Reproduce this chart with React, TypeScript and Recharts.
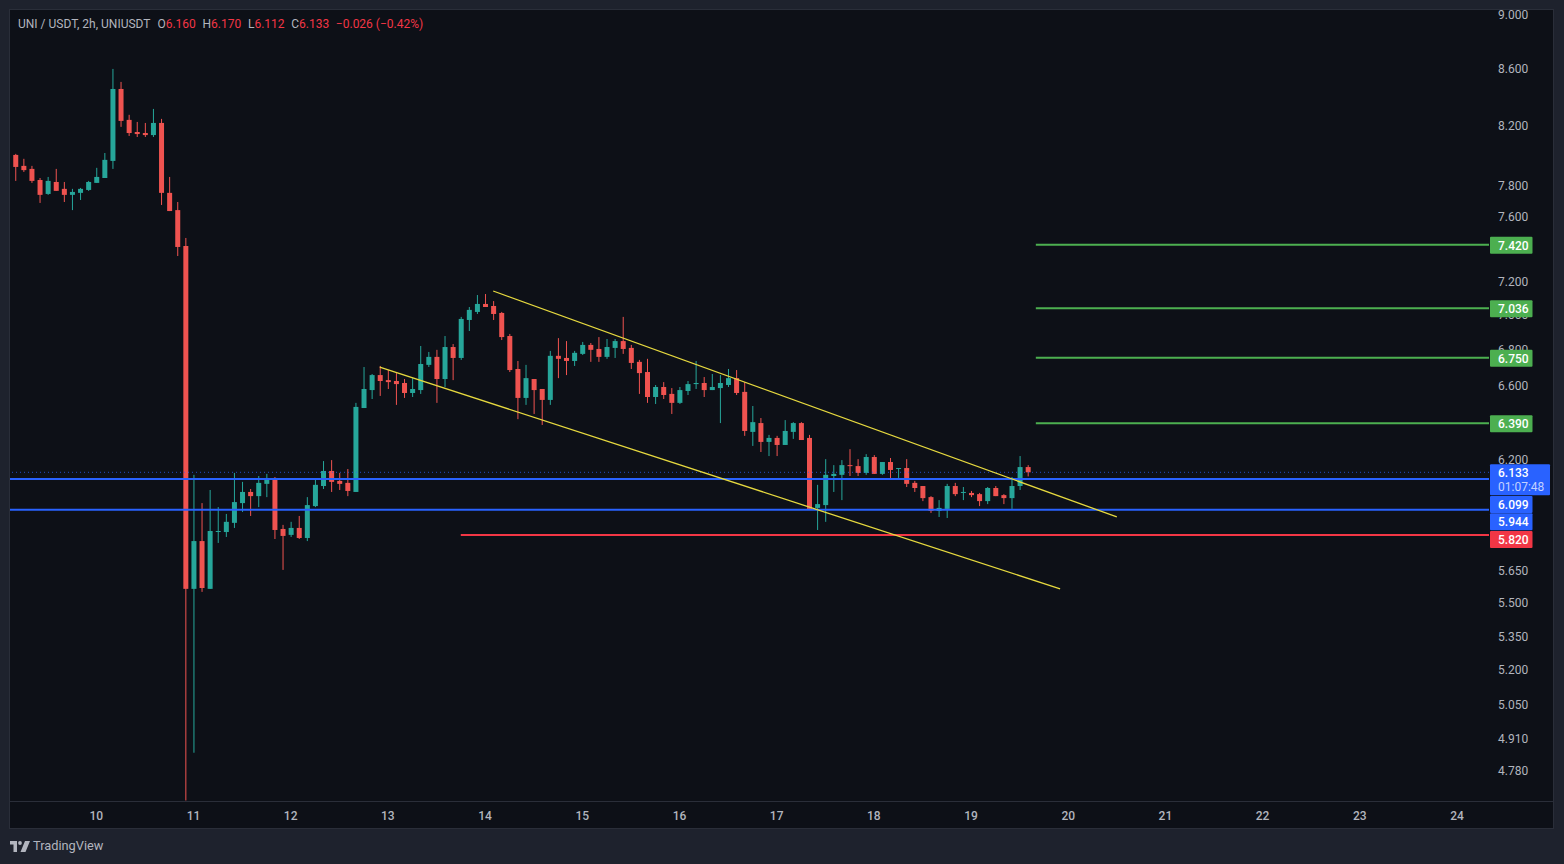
import React from "react";
import { ComposedChart, Bar, XAxis, YAxis, ReferenceLine } from "recharts";

const opens = [
  7.999, 7.926, 7.906, 7.833, 7.742, 7.82, 7.775, 7.736, 7.749, 7.768,
  7.814, 7.846, 7.959, 8.453, 8.237, 8.154, 8.147, 8.133, 8.216, 7.749,
  7.638, 7.412, 5.563, 5.79, 5.563, 5.836, 5.834, 5.879, 5.977, 6.033,
  6.012, 6.074, 6.104, 5.849, 5.82, 5.854, 5.805, 5.962, 6.063, 6.14,
  6.089, 6.079, 6.033, 6.472, 6.57, 6.653, 6.625, 6.62, 6.609, 6.554,
  6.57, 6.71, 6.755, 6.631, 6.811, 6.749, 6.967, 7.014, 7.061, 7.049,
  7.008, 6.874, 6.687, 6.527, 6.631, 6.576, 6.516, 6.761, 6.749, 6.732,
  6.772, 6.823, 6.8, 6.755, 6.806, 6.845, 6.806, 6.727, 6.67, 6.532,
  6.587, 6.549, 6.5, 6.565, 6.603, 6.609, 6.57, 6.581, 6.598, 6.636,
  6.56, 6.344, 6.391, 6.291, 6.312, 6.275, 6.344, 6.391, 6.312, 5.953,
  5.967, 6.114, 6.12, 6.17, 6.165, 6.13, 6.212, 6.125, 6.186, 6.15,
  6.155, 6.079, 6.063, 6.007, 5.938, 5.948, 6.063, 6.028, 6.028, 6.022,
  5.987, 6.053, 6.017, 6.002, 6.063, 6.16,
];
const highs = [
  8.006, 7.973, 7.926, 7.846, 7.853, 7.906, 7.82, 7.775, 7.781, 7.827,
  7.913, 8.012, 8.596, 8.503, 8.272, 8.223, 8.216, 8.313, 8.244, 7.853,
  7.69, 7.462, 6.12, 5.977, 6.043, 5.957, 5.923, 6.13, 6.084, 6.048,
  6.114, 6.125, 6.109, 5.869, 5.884, 5.913, 6.007, 6.094, 6.191, 6.196,
  6.13, 6.15, 6.5, 6.698, 6.659, 6.704, 6.681, 6.664, 6.631, 6.636,
  6.817, 6.783, 6.795, 6.874, 6.828, 6.985, 7.043, 7.114, 7.12, 7.078,
  7.014, 6.886, 6.732, 6.71, 6.631, 6.576, 6.789, 6.862, 6.845, 6.789,
  6.84, 6.834, 6.868, 6.857, 6.857, 6.985, 6.823, 6.738, 6.744, 6.598,
  6.614, 6.581, 6.587, 6.62, 6.732, 6.642, 6.659, 6.653, 6.687, 6.681,
  6.614, 6.483, 6.418, 6.328, 6.323, 6.407, 6.396, 6.396, 6.328, 6.069,
  6.201, 6.17, 6.196, 6.253, 6.201, 6.227, 6.222, 6.186, 6.207, 6.155,
  6.201, 6.089, 6.063, 6.012, 5.992, 6.074, 6.079, 6.058, 6.038, 6.028,
  6.058, 6.063, 6.022, 6.109, 6.217, 6.17,
];
const lows = [
  7.827, 7.886, 7.814, 7.684, 7.736, 7.762, 7.69, 7.638, 7.703, 7.762,
  7.814, 7.846, 7.906, 8.189, 8.127, 8.12, 8.12, 8.12, 7.671, 7.632,
  7.35, 4.66, 4.85, 5.549, 5.563, 5.781, 5.81, 5.854, 5.933, 5.913,
  5.957, 6.007, 5.8, 5.652, 5.81, 5.8, 5.79, 5.957, 6.048, 6.033,
  6.043, 6.012, 6.033, 6.472, 6.521, 6.538, 6.576, 6.489, 6.527, 6.532,
  6.549, 6.698, 6.5, 6.587, 6.625, 6.738, 6.903, 7.002, 7.043, 6.967,
  6.851, 6.67, 6.412, 6.489, 6.44, 6.381, 6.489, 6.636, 6.653, 6.704,
  6.766, 6.727, 6.727, 6.744, 6.749, 6.772, 6.687, 6.549, 6.5, 6.494,
  6.521, 6.44, 6.494, 6.543, 6.576, 6.532, 6.57, 6.391, 6.587, 6.543,
  6.323, 6.27, 6.238, 6.217, 6.217, 6.275, 6.307, 6.301, 5.943, 5.844,
  5.884, 6.033, 5.992, 6.114, 6.114, 6.12, 6.125, 6.12, 6.104, 6.104,
  6.058, 6.033, 5.987, 5.928, 5.908, 5.903, 6.012, 5.992, 6.007, 5.962,
  5.972, 6.012, 5.972, 5.948, 6.043, 6.112,
];
const closes = [
  7.919, 7.898, 7.827, 7.736, 7.827, 7.762, 7.736, 7.755, 7.775, 7.82,
  7.853, 7.966, 8.453, 8.23, 8.147, 8.14, 8.133, 8.216, 7.749, 7.632,
  7.406, 5.563, 5.79, 5.567, 5.839, 5.839, 5.884, 5.982, 6.033, 6.012,
  6.079, 6.104, 5.844, 5.815, 5.854, 5.805, 5.967, 6.069, 6.14, 6.084,
  6.074, 6.038, 6.478, 6.576, 6.653, 6.62, 6.614, 6.603, 6.554, 6.576,
  6.715, 6.755, 6.631, 6.811, 6.749, 6.973, 7.026, 7.061, 7.043, 7.002,
  6.868, 6.681, 6.527, 6.636, 6.57, 6.516, 6.761, 6.744, 6.732, 6.778,
  6.823, 6.795, 6.755, 6.811, 6.845, 6.8, 6.721, 6.664, 6.532, 6.587,
  6.543, 6.5, 6.57, 6.603, 6.609, 6.57, 6.587, 6.609, 6.636, 6.554,
  6.349, 6.396, 6.291, 6.312, 6.275, 6.349, 6.391, 6.301, 5.948, 5.972,
  6.12, 6.125, 6.17, 6.165, 6.13, 6.212, 6.125, 6.186, 6.145, 6.155,
  6.074, 6.053, 6.002, 5.938, 5.953, 6.063, 6.022, 6.033, 6.017, 5.987,
  6.053, 6.012, 6.002, 6.063, 6.16, 6.133,
];

const dayLabels = ["10", "11", "12", "13", "14", "15", "16", "17", "18", "19", "20", "21", "22", "23", "24"];
const dayTickIdx = [10, 22, 34, 46, 58, 70, 82, 94, 106, 118, 130, 142, 154, 166, 178];
const priceTicks = [9, 8.6, 8.2, 7.8, 7.6, 7.2, 7, 6.8, 6.6, 6.2, 5.65, 5.5, 5.35, 5.2, 5.05, 4.91, 4.78];
const targetLevels = [7.42, 7.036, 6.75, 6.39];
const supportLevels = [6.099, 5.944];
const stopLevel = 5.82;
const lastPrice = 6.133;
const countdown = "01:07:48";
const upperChannel = [{ x: 59, y: 7.138 }, { x: 136, y: 5.908 }];
const lowerChannel = [{ x: 45, y: 6.698 }, { x: 129, y: 5.563 }];
const xDomain = [-0.654, 181.95];
const yDomain = [4.658, 9.023];
const targetStart = 126;
const stopStart = 55;

const data = opens.map((o, i) => ({ i, o, h: highs[i], l: lows[i], c: closes[i] }));

const UP = "#26a69a";
const DOWN = "#ef5350";
const GREEN = "#4caf50";
const BLUE = "#2962ff";
const RED = "#f23645";
const YELLOW = "#e6d93f";
const TEXT = "#b2b5be";
const FONT = "Roboto, sans-serif";

const labelOffsets: Record<number, number> = { 6.099: 25, 5.944: 11.5, 5.82: 4 };

function Candle(props: any) {
  const { x, y, width, height, payload } = props;
  const { o, h, l, c } = payload;
  const color = c >= o ? UP : DOWN;
  const span = Math.log(h) - Math.log(l) || 1;
  const top = y + (height * (Math.log(h) - Math.log(Math.max(o, c)))) / span;
  const bottom = y + (height * (Math.log(h) - Math.log(Math.min(o, c)))) / span;
  const cx = x + width / 2;
  return (
    <g>
      <rect x={cx - 0.5} y={y} width={1} height={height} fill={color} />
      <rect x={cx - 2.5} y={top} width={5} height={Math.max(bottom - top, 1)} fill={color} />
    </g>
  );
}

function PriceTick(props: any) {
  const { x, y, payload } = props;
  const v = payload.value;
  const label = v.toFixed(3);
  if (v === lastPrice) {
    return (
      <g fontFamily={FONT} fontSize={12}>
        <rect x={x + 1} y={y - 8} width={60} height={31} fill={BLUE} rx={1} />
        <text x={x + 9} y={y + 4.8} fill="#ffffff" fontWeight={500}>{label}</text>
        <text x={x + 9} y={y + 19} fill="#c3d1ff">{countdown}</text>
      </g>
    );
  }
  const isTarget = targetLevels.includes(v);
  const isSupport = supportLevels.includes(v);
  if (isTarget || isSupport || v === stopLevel) {
    const dy = labelOffsets[v] ?? 0;
    const fill = isTarget ? GREEN : isSupport ? BLUE : RED;
    return (
      <g fontFamily={FONT} fontSize={12}>
        <rect x={x + 1} y={y + dy - 8} width={42.5} height={17} fill={fill} rx={1} />
        <text x={x + 9} y={y + dy + 4.8} fill="#ffffff" fontWeight={500}>{label}</text>
      </g>
    );
  }
  return (
    <text x={x + 9} y={y + 5} fill={TEXT} fontFamily={FONT} fontSize={12}>{label}</text>
  );
}

function TimeTick(props: any) {
  const { x, y, payload } = props;
  const label = dayLabels[dayTickIdx.indexOf(payload.value)];
  return (
    <text x={x} y={y + 11} textAnchor="middle" fill={TEXT} fontFamily={FONT} fontSize={12} fontWeight={500}>{label}</text>
  );
}

const Ohlc = ({ k, v }: { k: string; v: string }) => (
  <span style={{ marginRight: 6.7 }}>
    <span style={{ color: TEXT }}>{k}</span>
    <span style={{ color: RED }}>{v}</span>
  </span>
);

export default function App() {
  return (
    <div style={{ position: "fixed", left: 0, top: 0, width: 1564, height: 864, background: "#1e222d", overflow: "hidden", fontFamily: FONT }}>
      <div style={{ position: "absolute", left: 10, top: 10, width: 1543, height: 818, background: "#0d1017", boxShadow: "0 0 0 1px #2a2e39" }} />
      <div style={{ position: "absolute", left: 10, top: 801, width: 1544, height: 1, background: "#2a2e39" }} />
      <div style={{ position: "absolute", left: 0, top: 0 }}>
        <ComposedChart width={1564} height={864} data={data} margin={{ top: 11, right: 11, bottom: 35, left: 10 }}>
          <XAxis
            dataKey="i"
            type="number"
            domain={xDomain}
            allowDataOverflow
            ticks={dayTickIdx}
            interval={0}
            height={28}
            axisLine={false}
            tickLine={false}
            tick={TimeTick}
          />
          <YAxis
            orientation="right"
            scale="log"
            domain={yDomain}
            allowDataOverflow
            ticks={[...priceTicks, ...targetLevels, lastPrice, ...supportLevels, stopLevel]}
            interval={0}
            width={64}
            axisLine={false}
            tickLine={false}
            tickSize={0}
            tickMargin={0}
            tick={PriceTick}
          />
          <ReferenceLine y={lastPrice} stroke={BLUE} strokeWidth={1} strokeDasharray="1 3" strokeOpacity={0.75} />
          <Bar dataKey={(d: any) => [d.l, d.h]} barSize={5} isAnimationActive={false} shape={Candle} />
          {targetLevels.map((v) => (
            <ReferenceLine
              key={v}
              segment={[{ x: targetStart, y: v }, { x: xDomain[1], y: v }]}
              stroke={GREEN}
              strokeWidth={2}
            />
          ))}
          {supportLevels.map((v) => (
            <ReferenceLine key={v} y={v} stroke={BLUE} strokeWidth={2} />
          ))}
          <ReferenceLine segment={[{ x: stopStart, y: stopLevel }, { x: xDomain[1], y: stopLevel }]} stroke={RED} strokeWidth={2} />
          <ReferenceLine segment={upperChannel} stroke={YELLOW} strokeWidth={1.3} />
          <ReferenceLine segment={lowerChannel} stroke={YELLOW} strokeWidth={1.3} />
        </ComposedChart>
      </div>
      <div style={{ position: "absolute", left: 18, top: 17, fontSize: 12, lineHeight: "14px", whiteSpace: "nowrap", color: TEXT }}>
        <span style={{ marginRight: 7 }}>UNI / USDT, 2h, UNIUSDT</span>
        <Ohlc k="O" v="6.160" />
        <Ohlc k="H" v="6.170" />
        <Ohlc k="L" v="6.112" />
        <Ohlc k="C" v="6.133" />
        <span style={{ color: RED }}>−0.026 (−0.42%)</span>
      </div>
      <svg style={{ position: "absolute", left: 10, top: 841 }} width={20} height={11} viewBox="0 0 20 11">
        <path d="M0 0H7V11H3.5V3.5H0Z M15 0H20L15.5 11H10.5Z" fill={TEXT} />
        <circle cx="10" cy="2" r="1.9" fill={TEXT} />
      </svg>
      <div style={{ position: "absolute", left: 33, top: 838, fontSize: 12.8, lineHeight: "16px", color: TEXT }}>TradingView</div>
    </div>
  );
}
